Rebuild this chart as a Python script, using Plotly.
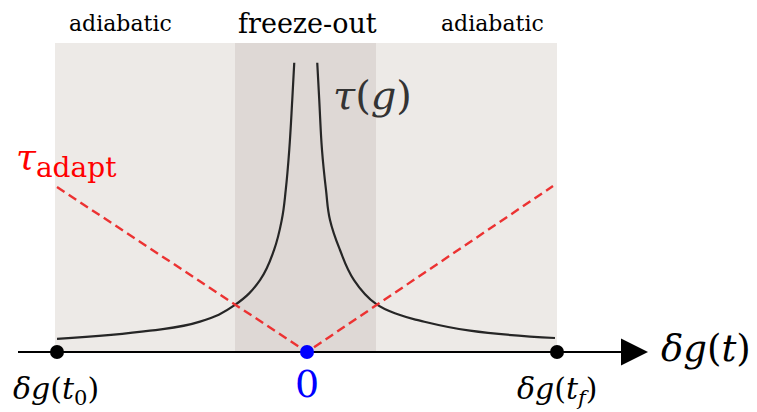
import plotly.graph_objects as go

# ---- data ----
# relaxation time tau(g): left branch (g<0) and right branch (g>0)
g_left = [-1.0, -0.628, -0.428, -0.288, -0.188, -0.132, -0.101, -0.085, -0.071, -0.059, -0.051]
tau_left = [0.079, 0.129, 0.184, 0.285, 0.436, 0.618, 0.800, 0.982, 1.224, 1.527, 1.753]
g_right = [0.041, 0.049, 0.060, 0.076, 0.092, 0.132, 0.188, 0.276, 0.372, 0.452, 0.652, 0.992]
tau_right = [1.753, 1.527, 1.224, 0.982, 0.800, 0.618, 0.436, 0.291, 0.224, 0.190, 0.129, 0.085]

# adaptation time (V shape)
g_adapt = [-1.0, 0.0, 0.984]
tau_adapt = [1.0, 0.0, 1.006]

# marked points on the delta g axis
g_marks = [-1.0, 0.0, 1.0]
mark_labels = ["<i>δg</i>(<i>t</i><sub>0</sub>)", "0", "<i>δg</i>(<i>t<sub>f</sub></i>)"]

# regions: adiabatic | freeze-out | adiabatic
region_edges = [-1.008, -0.288, 0.276, 1.0]
region_top = 1.873
region_labels = ["adiabatic", "freeze-out", "adiabatic"]

# ---- geometry helpers (reference pixels -> data) ----
W, H = 757, 412
OFF = 8  # default page margin of the html body
X0PX, Y0PX, SX, SY = 307.0, 352.0, 250.0, 165.0


def gx(px):
    return (px - X0PX) / SX


def ty(py):
    return (Y0PX - py) / SY


SERIF = "DejaVu Serif"
LIGHT = "rgb(237,234,231)"
DARK = "rgb(222,216,213)"
RED = "rgb(236,50,50)"

fig = go.Figure()

# tau(g) curve
for gs, ts in ((g_left, tau_left), (g_right, tau_right)):
    fig.add_trace(go.Scatter(x=gs, y=ts, mode="lines",
                             line=dict(color="#262626", width=2.2, shape="spline", smoothing=1.2),
                             hoverinfo="skip"))

# tau_adapt dashed
fig.add_trace(go.Scatter(x=g_adapt, y=tau_adapt, mode="lines",
                         line=dict(color=RED, width=2.4, dash="9px,5px"), hoverinfo="skip"))

# markers
fig.add_trace(go.Scatter(x=g_marks, y=[0, 0, 0], mode="markers",
                         marker=dict(size=14, color=["#000000", "#0000ff", "#000000"], opacity=1,
                                     line=dict(width=0)),
                         hoverinfo="skip"))

# shaded regions
shapes = []
shapes.append(dict(type="rect", xref="x", yref="y", x0=region_edges[0], x1=region_edges[3],
                   y0=0, y1=region_top, fillcolor=LIGHT, line=dict(width=0), layer="below"))
shapes.append(dict(type="rect", xref="x", yref="y", x0=region_edges[1], x1=region_edges[2],
                   y0=0, y1=region_top, fillcolor=DARK, line=dict(width=0), layer="below"))
# axis line
shapes.append(dict(type="line", xref="x", yref="y", x0=gx(18), x1=gx(630), y0=0, y1=0,
                   line=dict(color="black", width=2), layer="below"))

annotations = []
# arrow head
annotations.append(dict(x=gx(648), y=0, ax=gx(605), ay=0, xref="x", yref="y", axref="x", ayref="y",
                        showarrow=True, arrowhead=2, arrowsize=2.7, arrowwidth=2, arrowcolor="black",
                        text="", standoff=0))

# region labels
label_px = [120, 307, 492]
label_sizes = [22, 27, 22]
for lab, px, fs in zip(region_labels, label_px, label_sizes):
    annotations.append(dict(x=gx(px), y=ty(23), xref="x", yref="y", text=lab, showarrow=False,
                            font=dict(family=SERIF, size=fs, color="black"), xanchor="center", yanchor="middle"))

# axis point labels
lab_pos = [(56, 390, 30, "black"), (307, 384, 38, "blue"), (557, 390, 30, "black")]
for lab, (px, py, fs, col) in zip(mark_labels, lab_pos):
    annotations.append(dict(x=gx(px), y=ty(py), xref="x", yref="y", text=lab, showarrow=False,
                            font=dict(family=SERIF, size=fs, color=col), xanchor="center", yanchor="middle"))

# axis label
annotations.append(dict(x=gx(706), y=ty(348), xref="x", yref="y", text="<i>δg</i>(<i>t</i>)",
                        showarrow=False, font=dict(family=SERIF, size=37, color="black"),
                        xanchor="center", yanchor="middle"))
# tau(g)
annotations.append(dict(x=gx(372), y=ty(95), xref="x", yref="y", text="<i>τ</i>(<i>g</i>)",
                        showarrow=False, font=dict(family=SERIF, size=40, color="#333333"),
                        xanchor="center", yanchor="middle"))
# tau_adapt
annotations.append(dict(x=gx(14), y=ty(160), xref="x", yref="y",
                        text="<i>τ</i><sub><span style='font-size:28px'>adapt</span></sub>",
                        showarrow=False, font=dict(family=SERIF, size=36, color="red"),
                        xanchor="left", yanchor="middle"))

fig.update_layout(
    width=W - OFF, height=H - OFF, margin=dict(l=0, r=0, t=0, b=0),
    paper_bgcolor="white", plot_bgcolor="white", showlegend=False,
    xaxis=dict(range=[gx(OFF), gx(W)], visible=False, fixedrange=True),
    yaxis=dict(range=[ty(H), ty(OFF)], visible=False, fixedrange=True),
    shapes=shapes, annotations=annotations,
)

fig.write_html("out.html")
